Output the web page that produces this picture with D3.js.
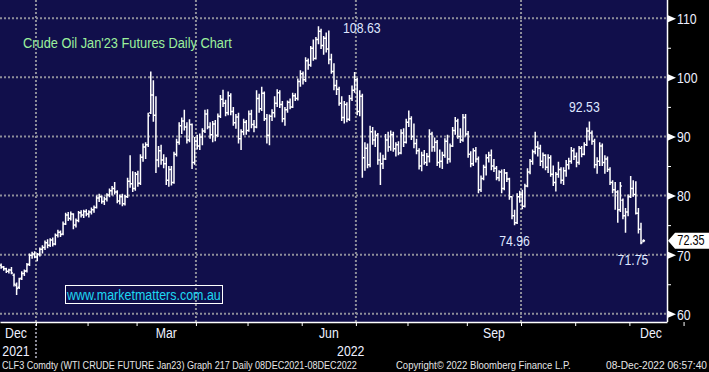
<!DOCTYPE html>
<html>
<head>
<meta charset="utf-8">
<script src="https://cdn.jsdelivr.net/npm/d3@7"></script>
<style>
  html, body { margin: 0; padding: 0; background: #000; }
  svg { display: block; }
  text { font-family: "Liberation Sans", Arial, sans-serif; }
</style>
</head>
<body>
<div id="chart"></div>
<script>
// CLF3 daily bars, 13-Dec-2021 .. 08-Dec-2022
const opens = [
  68.2, 67.9, 67.6, 67.2, 67.4, 66.5, 64.8, 64.5, 66.0, 66.8,
  67.3, 68.4, 69.9, 70.1, 69.6, 70.1, 70.9, 71.2, 72.0, 71.6,
  72.5, 71.8, 73.3, 73.8, 73.5, 75.2, 76.7, 76.1, 76.9, 75.0,
  75.8, 77.1, 76.7, 77.3, 76.9, 77.2, 77.6, 78.0, 79.6, 79.8,
  79.0, 79.4, 80.1, 80.8, 81.2, 80.6, 79.1, 79.8, 78.6, 79.8,
  82.4, 82.0, 81.2, 83.6, 82.1, 86.5, 88.2, 88.6, 94.0, 97.0,
  93.6, 86.0, 87.6, 86.0, 85.4, 82.6, 84.4, 82.2, 87.0, 89.0,
  91.8, 92.6, 91.6, 89.4, 92.0, 85.6, 89.2, 88.4, 89.9, 90.9,
  93.8, 91.6, 90.3, 92.1, 90.2, 93.4, 96.3, 95.6, 94.0, 96.9,
  94.2, 92.3, 93.3, 89.6, 90.8, 92.4, 91.0, 93.8, 92.0, 91.6,
  96.4, 94.7, 97.3, 93.0, 90.2, 93.4, 94.0, 95.6, 97.4, 95.4,
  93.0, 94.5, 95.8, 95.0, 96.9, 96.4, 99.3, 100.6, 99.6, 102.8,
  102.1, 104.9, 103.2, 106.4, 107.8, 105.4, 106.6, 104.8, 103.0, 101.0,
  98.6, 98.0, 95.6, 93.2, 95.4, 92.9, 96.4, 97.8, 99.6, 94.2,
  96.8, 86.4, 88.0, 85.2, 90.8, 89.4, 90.2, 86.0, 85.4, 86.2,
  89.4, 88.2, 90.3, 87.9, 88.6, 87.2, 90.6, 89.0, 92.4, 93.0,
  90.0, 88.8, 87.6, 85.0, 86.8, 85.6, 86.6, 90.4, 88.2, 89.0,
  85.6, 85.8, 86.8, 89.2, 86.2, 88.4, 91.0, 92.6, 90.0, 89.4,
  93.2, 90.4, 87.0, 85.4, 87.6, 86.2, 81.0, 82.9, 84.8, 86.4,
  86.8, 85.0, 84.6, 83.0, 84.0, 81.2, 83.8, 82.8, 79.8, 76.6,
  75.4, 79.8, 80.2, 78.2, 81.6, 84.0, 85.8, 87.4, 88.2, 88.0,
  85.8, 86.8, 84.8, 86.4, 83.6, 82.2, 83.6, 84.4, 82.6, 84.2,
  85.2, 85.8, 87.6, 86.6, 85.6, 88.0, 87.0, 88.6, 90.9, 90.6,
  89.2, 85.2, 85.8, 88.4, 85.6, 86.2, 84.4, 82.2, 81.0, 80.6,
  77.6, 79.2, 76.6, 77.2, 79.8, 81.2, 80.2, 77.0, 74.3, 72.3
];
const highs = [
  68.5, 68.1, 67.8, 67.6, 67.9, 66.8, 65.3, 66.1, 67.2, 67.5,
  68.6, 70.2, 70.5, 70.6, 70.3, 71.2, 71.6, 72.4, 72.6, 72.8,
  72.9, 73.6, 74.2, 74.1, 75.6, 77.1, 77.2, 77.3, 77.0, 76.1,
  77.4, 77.5, 77.6, 77.7, 77.5, 78.0, 78.3, 80.0, 80.3, 80.0,
  79.8, 80.4, 81.2, 81.6, 82.3, 80.9, 80.2, 80.3, 80.1, 83.0,
  86.8, 84.1, 84.0, 84.2, 87.0, 88.8, 89.0, 94.0, 101.0, 99.5,
  96.8, 88.4, 88.6, 87.0, 86.5, 85.0, 85.0, 87.4, 89.6, 92.4,
  93.2, 94.5, 92.4, 92.9, 92.2, 89.9, 90.3, 90.5, 91.4, 94.5,
  94.6, 92.4, 92.6, 92.8, 93.9, 97.0, 97.9, 96.2, 97.6, 97.3,
  95.0, 93.8, 94.0, 91.2, 93.0, 92.8, 94.4, 94.5, 92.8, 97.8,
  97.2, 98.4, 97.6, 93.8, 93.7, 94.6, 96.8, 98.0, 97.8, 96.0,
  95.0, 96.1, 96.4, 97.4, 97.3, 99.8, 101.2, 101.0, 103.4, 103.2,
  105.3, 106.4, 106.8, 108.63, 108.2, 107.0, 107.6, 107.9, 104.0, 102.4,
  99.6, 98.4, 96.8, 96.0, 95.8, 97.0, 98.6, 100.9, 99.9, 97.8,
  97.2, 89.0, 88.8, 91.8, 91.6, 91.0, 90.6, 87.3, 86.9, 90.4,
  90.8, 91.0, 90.8, 89.0, 89.2, 91.2, 91.4, 93.0, 94.4, 93.4,
  92.2, 89.6, 88.0, 87.4, 87.7, 87.2, 91.2, 90.8, 89.8, 89.4,
  87.8, 87.4, 89.7, 90.3, 88.8, 91.6, 93.3, 93.0, 91.4, 93.8,
  93.8, 90.9, 87.5, 88.0, 88.2, 86.6, 83.4, 85.2, 87.0, 87.4,
  87.8, 86.2, 85.0, 84.3, 84.4, 84.5, 84.0, 83.0, 79.9, 77.6,
  80.4, 80.8, 81.0, 82.0, 84.6, 86.2, 87.8, 90.8, 89.2, 88.6,
  87.3, 87.0, 87.0, 86.8, 85.1, 84.0, 85.7, 84.8, 84.8, 86.0,
  86.4, 88.2, 88.0, 87.3, 88.4, 88.4, 89.0, 91.5, 92.53, 91.0,
  89.6, 86.5, 89.0, 88.8, 86.8, 86.6, 84.8, 82.6, 82.3, 80.9,
  82.3, 79.5, 77.9, 80.2, 83.3, 82.6, 82.4, 77.9, 75.4, 72.6
];
const lows = [
  67.6, 67.3, 66.9, 66.8, 66.7, 64.6, 63.2, 64.2, 65.7, 66.4,
  67.0, 68.1, 69.3, 69.4, 68.9, 69.7, 70.2, 70.8, 71.1, 71.3,
  71.4, 71.6, 72.9, 73.0, 73.3, 75.0, 75.7, 75.8, 74.3, 74.6,
  75.5, 76.3, 76.2, 76.5, 76.3, 76.8, 77.1, 77.8, 78.9, 78.6,
  78.4, 79.0, 79.7, 80.0, 80.2, 78.7, 78.5, 78.2, 78.3, 79.6,
  81.3, 80.6, 80.8, 81.5, 81.8, 85.7, 86.2, 88.2, 93.8, 92.5,
  83.8, 84.8, 85.2, 84.6, 81.8, 81.5, 81.7, 82.0, 86.6, 88.6,
  90.4, 91.0, 88.8, 89.0, 84.5, 85.2, 87.8, 87.7, 88.5, 90.6,
  91.2, 89.6, 89.0, 89.2, 89.9, 93.1, 95.0, 93.4, 93.6, 93.6,
  91.8, 91.3, 88.8, 87.7, 90.2, 90.3, 90.8, 91.4, 90.7, 91.4,
  94.0, 94.3, 92.6, 88.8, 88.5, 92.6, 93.2, 95.0, 94.8, 92.4,
  91.8, 94.0, 94.6, 94.8, 96.0, 96.1, 98.4, 98.8, 99.2, 101.3,
  101.8, 102.8, 103.0, 105.6, 104.8, 103.8, 104.2, 102.2, 100.6, 97.8,
  97.0, 95.2, 92.6, 92.2, 92.4, 92.6, 96.0, 97.4, 93.6, 93.4,
  83.0, 84.2, 84.6, 84.8, 88.6, 88.2, 85.2, 81.8, 84.5, 86.0,
  87.4, 87.6, 87.4, 86.6, 86.8, 87.0, 88.2, 88.8, 91.6, 89.4,
  88.0, 87.0, 84.4, 84.1, 85.2, 85.0, 85.6, 87.4, 87.4, 85.0,
  84.7, 84.5, 86.4, 85.4, 85.6, 88.2, 90.3, 89.6, 88.9, 89.1,
  90.0, 86.4, 84.8, 85.0, 85.6, 80.4, 80.6, 82.6, 83.4, 85.6,
  84.3, 84.0, 82.6, 82.4, 80.4, 80.9, 82.3, 79.3, 76.0, 74.96,
  75.2, 78.8, 77.7, 78.0, 81.4, 83.6, 85.2, 87.0, 86.6, 85.0,
  84.6, 84.3, 83.8, 83.2, 81.6, 80.7, 83.0, 82.0, 81.8, 83.2,
  84.4, 85.4, 86.0, 84.8, 85.2, 86.5, 86.8, 88.4, 89.3, 88.6,
  84.6, 83.7, 85.0, 85.0, 83.7, 84.0, 81.8, 80.4, 77.6, 75.4,
  77.2, 76.0, 73.7, 76.5, 79.6, 79.8, 76.8, 73.6, 71.75, 72.1
];
const closes = [
  67.9, 67.6, 67.2, 67.4, 66.9, 65.0, 64.3, 65.9, 66.8, 67.2,
  68.3, 69.9, 70.1, 69.6, 70.0, 70.9, 71.2, 72.0, 71.6, 72.5,
  71.8, 73.3, 73.8, 73.4, 75.2, 76.7, 76.1, 76.9, 75.0, 75.8,
  77.1, 76.7, 77.3, 76.9, 77.2, 77.6, 78.0, 79.6, 79.8, 79.0,
  79.4, 80.1, 80.8, 81.2, 80.6, 79.1, 79.8, 78.6, 79.8, 82.4,
  82.0, 81.2, 83.6, 82.1, 86.5, 88.2, 88.6, 93.5, 97.0, 93.6,
  86.0, 87.6, 86.0, 85.4, 82.6, 84.4, 82.2, 87.0, 89.0, 91.8,
  92.6, 91.6, 89.4, 92.0, 85.6, 89.2, 88.4, 89.9, 90.9, 93.8,
  91.6, 90.3, 92.1, 90.2, 93.4, 96.3, 95.6, 94.0, 96.9, 94.2,
  92.3, 93.3, 89.6, 90.8, 92.4, 91.0, 93.8, 92.0, 91.6, 96.4,
  94.7, 97.3, 93.0, 90.2, 93.4, 94.0, 95.6, 97.4, 95.4, 93.0,
  94.5, 95.8, 95.0, 96.9, 96.4, 99.3, 100.6, 99.6, 102.8, 102.1,
  104.9, 103.2, 106.4, 107.8, 105.4, 106.6, 104.8, 103.0, 101.0, 98.6,
  98.0, 95.6, 93.2, 95.4, 92.9, 96.4, 97.8, 99.6, 94.2, 96.8,
  86.4, 88.0, 85.2, 90.8, 89.4, 90.2, 86.0, 85.4, 86.2, 89.4,
  88.2, 90.3, 87.9, 88.6, 87.2, 90.6, 89.0, 92.4, 93.0, 90.0,
  88.8, 87.6, 85.0, 86.8, 85.6, 86.6, 90.4, 88.2, 89.0, 85.6,
  85.8, 86.8, 89.2, 86.2, 88.4, 91.0, 92.6, 90.0, 89.4, 93.2,
  90.4, 87.0, 85.4, 87.6, 86.2, 81.0, 82.9, 84.8, 86.4, 86.8,
  85.0, 84.6, 83.0, 84.0, 81.2, 83.8, 82.8, 79.8, 76.6, 75.4,
  79.8, 80.2, 78.2, 81.6, 84.0, 85.8, 87.4, 88.2, 88.0, 85.8,
  86.8, 84.8, 86.4, 83.6, 82.2, 83.6, 84.4, 82.6, 84.2, 85.2,
  85.8, 87.6, 86.6, 85.6, 88.0, 87.0, 88.6, 90.9, 90.6, 89.2,
  85.2, 85.8, 88.4, 85.6, 86.2, 84.4, 82.2, 81.0, 80.6, 77.6,
  81.6, 76.6, 77.2, 79.8, 81.2, 80.2, 77.0, 74.3, 72.0, 72.35
];

// first trading day of each month, as a bar index (Dec-21 .. Jan-23)
const monthStarts = [-8, 14, 34, 53, 76, 96, 117, 138, 158, 181, 202, 223, 244, 265];
const monthNames = ["Dec", "Jan", "Feb", "Mar", "Apr", "May", "Jun", "Jul", "Aug", "Sep", "Oct", "Nov", "Dec"];
const labelledMonths = [0, 3, 6, 9, 12];
const gridMonths = [1, 4, 7, 10];
const years = [
  { text: "2021", from: -8, to: 14 },
  { text: "2022", from: 14, to: 258 }
];
const yMajor = [60, 70, 80, 90, 100, 110];
const yMinor = [65, 75, 85, 95, 105];
const lastPrice = 72.35;
const callouts = [
  { text: "108.63", bar: 123 },
  { text: "92.53", bar: 228 },
  { text: "74.96", bar: 199 },
  { text: "71.75", bar: 248 }
];
const title = "Crude Oil Jan'23 Futures Daily Chart";
const website = "www.marketmatters.com.au";
const footer = [
  "CLF3 Comdty (WTI CRUDE FUTURE  Jan23) Graph 217  Daily 08DEC2021-08DEC2022",
  "Copyright\u00a9 2022 Bloomberg Finance L.P.",
  "08-Dec-2022 06:57:40"
];

const W = 709, H = 372;
const plotW = 667, plotH = 322;
const navy = "#110f4b";
const gridColor = "#8e8e9a";
const labelColor = "#eef0ff";
const narrow = 0.82; // Bloomberg's narrow face, faked with a horizontal squeeze

const x = d3.scaleLinear().domain([-0.44, 258.08]).range([0, plotW]);
const y = d3.scaleLinear().domain([60, 110]).range([313.8, 18.2]);

const svg = d3.select("#chart").append("svg").attr("width", W).attr("height", H);
svg.append("rect").attr("width", W).attr("height", H).attr("fill", "#000");
svg.append("rect").attr("width", plotW).attr("height", plotH).attr("fill", navy);

function squeezed(sel, px, py, sx) {
  return sel.attr("x", 0).attr("y", 0)
    .attr("transform", (d, k) => `translate(${px(d, k)},${py(d, k)}) scale(${sx},1)`);
}

// stretch or squeeze a single text to a measured width
function fitTo(text, x0, y0, width) {
  const n = text.node().getComputedTextLength();
  text.attr("transform", `translate(${x0},${y0}) scale(${width / n},1)`);
}

// dotted grid
svg.append("g").selectAll("line").data(yMajor).join("line")
  .attr("x1", 0).attr("x2", plotW)
  .attr("y1", d => y(d)).attr("y2", d => y(d))
  .attr("stroke", gridColor).attr("stroke-width", 2).attr("stroke-dasharray", "2,2");

svg.append("g").selectAll("line").data(gridMonths).join("line")
  .attr("x1", m => x(monthStarts[m] - 0.5)).attr("x2", m => x(monthStarts[m] - 0.5))
  .attr("y1", 0).attr("y2", m => (m === 1 ? 360 : plotH))
  .attr("stroke", gridColor).attr("stroke-width", 2).attr("stroke-dasharray", "2,2");

// OHLC bars
const bars = closes.map((c, i) => ({ i, o: opens[i], h: highs[i], l: lows[i], c }));
const t = 1.5;
const barPath = bars.map(d => {
  const cx = x(d.i);
  return `M${cx},${y(d.h)}V${y(d.l)}M${cx - t},${y(d.o)}H${cx}M${cx},${y(d.c)}H${cx + t}`;
}).join("");
svg.append("path").attr("d", barPath)
  .attr("fill", "none").attr("stroke", "#fff").attr("stroke-width", 1.5);

// bottom axis
const xAxis = svg.append("g").attr("transform", `translate(0,${plotH})`)
  .call(d3.axisBottom(x).tickValues(monthStarts.map(d => d - 0.5)).tickSize(4).tickSizeOuter(0).tickFormat(""));
xAxis.select(".domain").attr("stroke", "#fff").attr("stroke-width", 1.5);
xAxis.selectAll(".tick line").attr("stroke", "#fff");

svg.append("g").selectAll("text").data(labelledMonths).join("text")
  .attr("text-anchor", "middle").attr("font-size", 15).attr("fill", labelColor)
  .text(m => monthNames[m])
  .call(squeezed, m => {
    const c = x((monthStarts[m] + monthStarts[m + 1]) / 2 - 0.5);
    return Math.min(Math.max(c, 16), 651);
  }, () => 338, narrow);

svg.append("g").selectAll("text").data(years).join("text")
  .attr("text-anchor", "middle").attr("font-size", 15).attr("fill", labelColor)
  .text(d => d.text)
  .call(squeezed, d => Math.max(x((d.from + d.to) / 2 - 0.5), 16), () => 356, narrow);

// right axis
svg.append("line").attr("x1", plotW + 0.5).attr("x2", plotW + 0.5).attr("y1", 0).attr("y2", plotH)
  .attr("stroke", "#fff").attr("stroke-width", 1.5);

const yMinorAxis = svg.append("g").attr("transform", `translate(${plotW},0)`)
  .call(d3.axisRight(y).tickValues(yMinor).tickSize(4).tickFormat(""));
yMinorAxis.select(".domain").remove();
yMinorAxis.selectAll(".tick line").attr("stroke", "#fff");

const yAxis = svg.append("g").attr("transform", `translate(${plotW},0)`)
  .call(d3.axisRight(y).tickValues(yMajor).tickSize(0).tickPadding(10));
yAxis.select(".domain").remove();
yAxis.selectAll(".tick text")
  .attr("font-size", 15).attr("fill", labelColor)
  .attr("font-family", "\"Liberation Sans\", Arial, sans-serif")
  .attr("x", 0).attr("dy", "0.36em")
  .attr("transform", `translate(10,0) scale(${narrow},1)`);
yAxis.selectAll(".tick").append("path")
  .attr("d", "M1,-3.5L9,0L1,3.5Z").attr("fill", "#fff");

// last price flag
const ly = y(lastPrice);
svg.append("path")
  .attr("d", `M${plotW + 1},${ly}L${plotW + 8},${ly - 8}H${W}V${ly + 8}H${plotW + 8}Z`)
  .attr("fill", "#fff");
svg.append("text")
  .attr("text-anchor", "middle").attr("font-size", 14).attr("fill", "#000")
  .text(lastPrice.toFixed(2))
  .call(squeezed, () => 691, () => ly + 4.5, 0.78);

// high / low callouts
const calloutPlace = [[24.5, 6.5, "start"], [-5, -9.5, "middle"], [0, 20.6, "middle"], [-8, 20.7, "middle"]];
svg.append("g").selectAll("text").data(callouts).join("text")
  .attr("text-anchor", (d, k) => calloutPlace[k][2])
  .attr("font-size", 15).attr("fill", "#dfe6ff")
  .text(d => d.text)
  .call(squeezed, (d, k) => x(d.bar) + calloutPlace[k][0], (d, k) => y(+d.text) + calloutPlace[k][1], narrow);

// title and website
const titleText = svg.append("text").attr("font-size", 15).attr("fill", "#9cf09c").text(title);
fitTo(titleText, 23, 48, 209);

svg.append("rect").attr("x", 65.5).attr("y", 285.5).attr("width", 157).attr("height", 18)
  .attr("fill", "none").attr("stroke", "#fff").attr("stroke-width", 1);
const webText = svg.append("text").attr("font-size", 15).attr("fill", "#1ed8f2").text(website);
fitTo(webText, 67, 300, 154);

// footer
const footerPlace = [[2, 355], [396, 175], [606, 101]];
footer.forEach((str, k) => {
  const ft = svg.append("text").attr("font-size", 11).attr("fill", "#e6e6e6").text(str);
  fitTo(ft, footerPlace[k][0], 369, footerPlace[k][1]);
});
</script>
</body>
</html>
